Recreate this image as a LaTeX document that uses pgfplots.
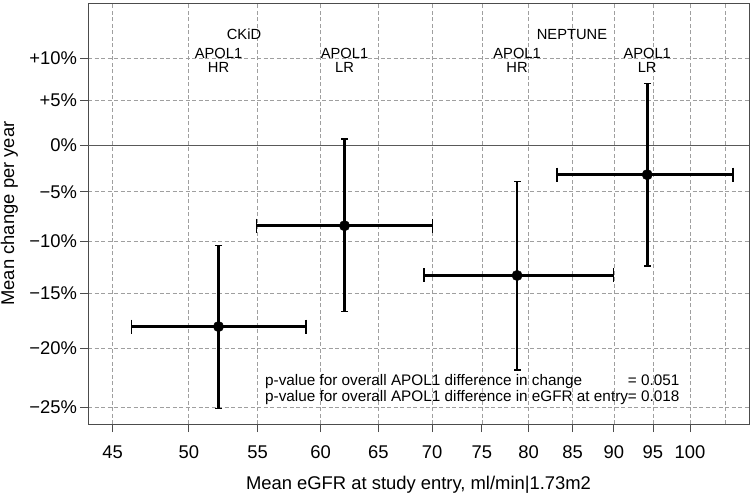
\documentclass[border=0pt]{standalone}
\usepackage{fontspec}
\setmainfont{Liberation Sans}
\usepackage{pgfplots}
\pgfplotsset{compat=1.18}
\begin{document}
\begin{tikzpicture}
\begin{axis}[
  name=ax,
  scale only axis,
  width=661pt, height=421pt,
  xmode=log, ymode=log,
  xmin=43.5, xmax=108.5,
  ymin=0.736, ymax=1.169,
  xtick={45,50,55,60,65,70,75,80,85,90,95,100},
  xticklabels={45,50,55,60,65,70,75,80,85,90,95,100},
  ytick={0.75,0.8,0.85,0.9,0.95,1,1.05,1.1},
  yticklabels={−25\%,−20\%,−15\%,−10\%,−5\%,0\%,+5\%,+10\%},
  extra x ticks={105},
  extra x tick labels={},
  extra x tick style={grid=major, major tick length=0pt},
  tick pos=left,
  tick align=outside,
  major tick length=8pt,
  tick style={black!70, line width=0.8pt},
  grid=major,
  major grid style={gray!75, dashed, line width=0.6pt, dash pattern=on 4pt off 2.5pt},
  axis line style={black!70, line width=1pt},
  ticklabel style={font=\fontsize{18.4}{22}\selectfont},
  yticklabel style={anchor=east, inner sep=0pt, xshift=-3pt},
  xticklabel style={anchor=base, inner sep=0pt, yshift=-26pt},
  xlabel={Mean eGFR at study entry, ml/min|1.73m2},
  ylabel={Mean change per year},
  label style={font=\fontsize{18.4}{22}\selectfont},
  xlabel style={at={(axis description cs:0.5,0)}, anchor=base, yshift=-65pt, inner sep=0pt},
  ylabel style={at={(axis description cs:-0.1117,0.5)}, anchor=base, inner sep=0pt},
  clip=false,
]
% zero reference line
\draw[black!65, line width=0.9pt] (axis cs:43.5,1) -- (axis cs:108.5,1);

% vertical error bars (95% CI of change)
\addplot[black, line width=2.6pt, mark=-, mark size=3.5pt, mark options={line width=1.5pt, solid}] coordinates {(52.10,0.7486) (52.10,0.8957)};
\addplot[black, line width=2.6pt, mark=-, mark size=3.5pt, mark options={line width=1.5pt, solid}] coordinates {(62.02,0.8327) (62.02,1.0066)};
\addplot[black, line width=2.6pt, mark=-, mark size=3.5pt, mark options={line width=1.5pt, solid}] coordinates {(78.75,0.7812) (78.75,0.9610)};
\addplot[black, line width=2.6pt, mark=-, mark size=3.5pt, mark options={line width=1.5pt, solid}] coordinates {(94.25,0.8757) (94.25,1.0702)};

% horizontal error bars (eGFR at entry)
\addplot[black, line width=2.5pt, mark=|, mark size=7pt, mark options={line width=1.3pt, solid}] coordinates {(46.18,0.8192) (58.81,0.8192)};
\addplot[black, line width=2.5pt, mark=|, mark size=7pt, mark options={line width=1.3pt, solid}] coordinates {(54.90,0.9152) (70.07,0.9152)};
\addplot[black, line width=2.5pt, mark=|, mark size=7pt, mark options={line width=1.3pt, solid}] coordinates {(69.24,0.8665) (89.99,0.8665)};
\addplot[black, line width=2.5pt, mark=|, mark size=7pt, mark options={line width=1.3pt, solid}] coordinates {(83.20,0.9680) (106.1,0.9680)};

% point estimates
\addplot[only marks, mark=*, mark size=5.2pt, black] coordinates {
  (52.10,0.8192) (62.02,0.9152) (78.75,0.8665) (94.25,0.9680)};

% annotations
\begin{scope}[every node/.style={font=\fontsize{14.7}{13.6}\selectfont, inner sep=0pt}]
\node[anchor=base] at (axis cs:53.97,1.123) {CKiD};
\node[anchor=base] at (axis cs:84.94,1.123) {NEPTUNE};
\node[anchor=north, align=center] at (axis cs:52.10,1.112) {APOL1\\HR};
\node[anchor=north, align=center] at (axis cs:62.02,1.112) {APOL1\\LR};
\node[anchor=north, align=center] at (axis cs:78.75,1.112) {APOL1\\HR};
\node[anchor=north, align=center] at (axis cs:94.25,1.112) {APOL1\\LR};
\node[anchor=base west, font=\fontsize{15.3}{15.6}\selectfont] at (axis cs:55.56,0.7677) {\begin{tabular}[t]{@{}l@{}l@{}}p-value for overall APOL1 difference in change & = 0.051\\p-value for overall APOL1 difference in eGFR at entry & = 0.018\end{tabular}};
\end{scope}
\end{axis}
\pgfresetboundingbox
\path[use as bounding box] ([shift={(-88pt,-71pt)}]ax.south west) rectangle ([shift={(3pt,3pt)}]ax.north east);
\end{tikzpicture}
\end{document}
